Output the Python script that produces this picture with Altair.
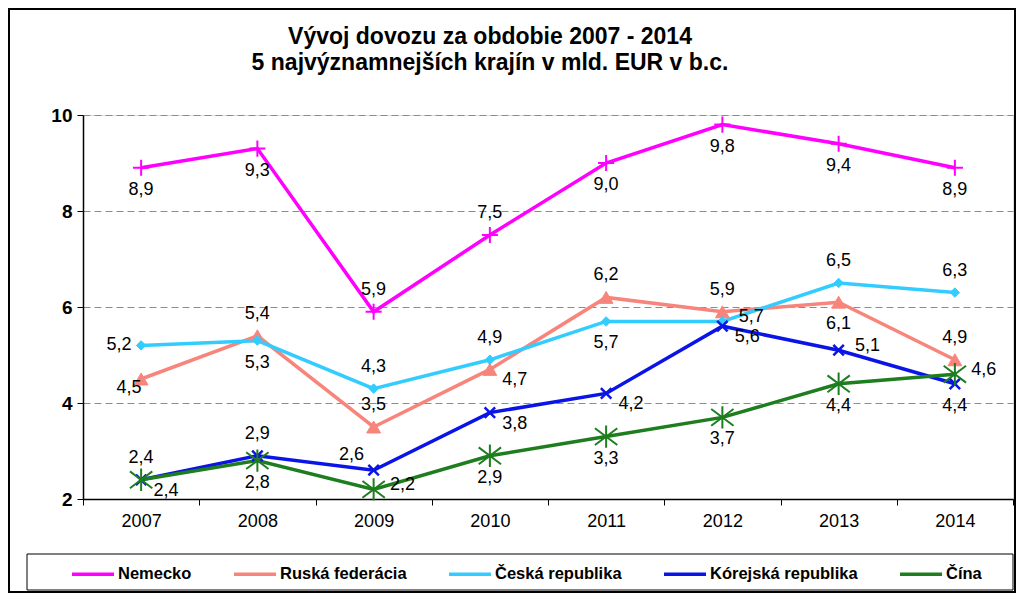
import altair as alt
import pandas as pd

# ---------------- data ----------------
years = ["2007", "2008", "2009", "2010", "2011", "2012", "2013", "2014"]
series = ["Nemecko", "Ruská federácia", "Česká republika", "Kórejská republika", "Čína"]

nemecko = [8.9, 9.3, 5.9, 7.5, 9.0, 9.8, 9.4, 8.9]
ruska = [4.5, 5.4, 3.5, 4.7, 6.2, 5.9, 6.1, 4.9]
ceska = [5.2, 5.3, 4.3, 4.9, 5.7, 5.7, 6.5, 6.3]
korejska = [2.4, 2.9, 2.6, 3.8, 4.2, 5.6, 5.1, 4.4]
cina = [2.4, 2.8, 2.2, 2.9, 3.3, 3.7, 4.4, 4.6]

# where each data label sits relative to its point (as in the original)
pos_nemecko = ["below", "below", "above", "above", "below", "below", "below", "below"]
pos_ruska = ["below-left", "above", "above", "below-right", "above", "above", "below", "above"]
pos_ceska = ["left", "below", "above", "above", "below", "right", "above", "above"]
pos_korejska = ["above", "above", "above-left", "below-right", "below-right", "below-right", "right", "below"]
pos_cina = ["below-right", "below", "right", "below", "below", "below", "below", "right"]

y_ticks = [2, 4, 6, 8, 10]
title_lines = ["Vývoj dovozu za obdobie 2007 - 2014", "5 najvýznamnejších krajín v mld. EUR v b.c."]

# ---------------- styles ----------------
colors = ["#FF00FF", "#F7857C", "#33CCFF", "#0A14E6", "#1E7D1E"]
shapes = [
    "M-1,0L1,0M0,-1L0,1",                                   # plus
    "triangle-up",
    "diamond",
    "M-1,-1L1,1M-1,1L1,-1",                                 # x
    "M-1,-0.75L1,0.75M-1,0.75L1,-0.75M0,-1L0,1",            # asterisk
]
sizes = [260, 190, 90, 110, 500]
stroke_widths = [2, 1, 1, 2.5, 2]
fills = ["transparent", "#F7857C", "#33CCFF", "transparent", "transparent"]
offsets = {
    "above": (0, -22),
    "below": (0, 22),
    "left": (-22, 0),
    "right": (29, -4),
    "below-right": (25, 11),
    "below-left": (-12, 9),
    "above-left": (-22, -15),
}
FONT = "Liberation Sans"

values = [nemecko, ruska, ceska, korejska, cina]
positions = [pos_nemecko, pos_ruska, pos_ceska, pos_korejska, pos_cina]
rows = []
for s, vals, poss in zip(series, values, positions):
    for y, v, p in zip(years, vals, poss):
        rows.append({"series": s, "year": y, "value": v, "pos": p})
df = pd.DataFrame(rows)

W, H = 930, 384

x_enc = alt.X(
    "year:O",
    scale=alt.Scale(type="band", domain=years, paddingInner=0, paddingOuter=0),
    axis=alt.Axis(
        title=None, labelAngle=0, tickBand="extent", labelFont=FONT, labelFontSize=18,
        labelColor="black", domainColor="black", domainWidth=1.5, tickColor="black",
        tickSize=6, labelPadding=7, grid=False,
    ),
)
y_enc = alt.Y(
    "value:Q",
    scale=alt.Scale(domain=[2, 10], nice=False, zero=False),
    axis=alt.Axis(
        title=None, values=y_ticks, format="d", labelFont=FONT, labelFontSize=19,
        labelFontWeight="bold", labelColor="black", domainColor="black", domainWidth=1.5,
        tickColor="black", tickSize=6, labelPadding=5, grid=True, gridColor="#8C8C8C",
        gridDash=[7, 4], gridWidth=1,
    ),
)

base = alt.Chart(df)

lines = base.mark_line(strokeWidth=3.5).encode(
    x=x_enc,
    y=y_enc,
    color=alt.Color(
        "series:N",
        scale=alt.Scale(domain=series, range=colors),
        legend=alt.Legend(
            title=None, orient="none", legendX=-13, legendY=436, direction="horizontal",
            columns=5, symbolType="stroke", symbolSize=1764, symbolStrokeWidth=3.5,
            labelFont=FONT, labelFontSize=16.5, labelFontWeight="bold", labelColor="black",
            labelOffset=2, columnPadding=35, padding=0,
        ),
    ),
    detail="series:N",
)

points = base.mark_point(filled=True, opacity=1).encode(
    x=x_enc,
    y=y_enc,
    shape=alt.Shape("series:N", scale=alt.Scale(domain=series, range=shapes), legend=None),
    stroke=alt.Stroke("series:N", scale=alt.Scale(domain=series, range=colors), legend=None),
    fill=alt.Fill("series:N", scale=alt.Scale(domain=series, range=fills), legend=None),
    size=alt.Size("series:N", scale=alt.Scale(type="ordinal", domain=series, range=sizes), legend=None),
    strokeWidth=alt.StrokeWidth(
        "series:N", scale=alt.Scale(type="ordinal", domain=series, range=stroke_widths), legend=None
    ),
)

label_layers = []
for p, (dx, dy) in offsets.items():
    label_layers.append(
        base.transform_filter(alt.datum.pos == p)
        .transform_calculate(lbl="replace(format(datum.value, '.1f'), '.', ',')")
        .mark_text(font=FONT, fontSize=18, color="black", dx=dx, dy=dy, baseline="middle", align="center")
        .encode(x=x_enc, y=y_enc, text="lbl:N")
    )

one = alt.Data(values=[{"k": 1}])
title_df = pd.DataFrame({"line": title_lines, "i": [0, 1]})
title_layer = (
    alt.Chart(title_df)
    .transform_calculate(ty="-78 + datum.i * 26")
    .mark_text(font=FONT, fontSize=23, fontWeight="bold", color="black", align="center", baseline="middle")
    .encode(
        x=alt.value(407),
        y=alt.Y("ty:Q", scale=None),
        text="line:N",
    )
)
legend_box = alt.Chart(one).mark_rect(fill=None, stroke="black", strokeWidth=1).encode(
    x=alt.value(-56), x2=alt.value(930), y=alt.value(439), y2=alt.value(475)
)
frame = alt.Chart(one).mark_rect(fill=None, stroke="black", strokeWidth=2).encode(
    x=alt.value(-74), x2=alt.value(932), y=alt.value(-106), y2=alt.value(477)
)

chart = (
    alt.layer(lines, points, *label_layers, title_layer, legend_box, frame)
    .resolve_scale(color="independent")
    .properties(
        width=W,
        height=H,
        autosize=alt.AutoSizeParams(type="none"),
        padding={"left": 75, "top": 107, "right": 3, "bottom": 94},
    )
    .configure_view(fill="#CCFFCC", stroke="#606060", strokeWidth=1.5)
    .configure(background="white")
)

chart.save("out.html", embed_options={"renderer": "svg", "actions": False})
